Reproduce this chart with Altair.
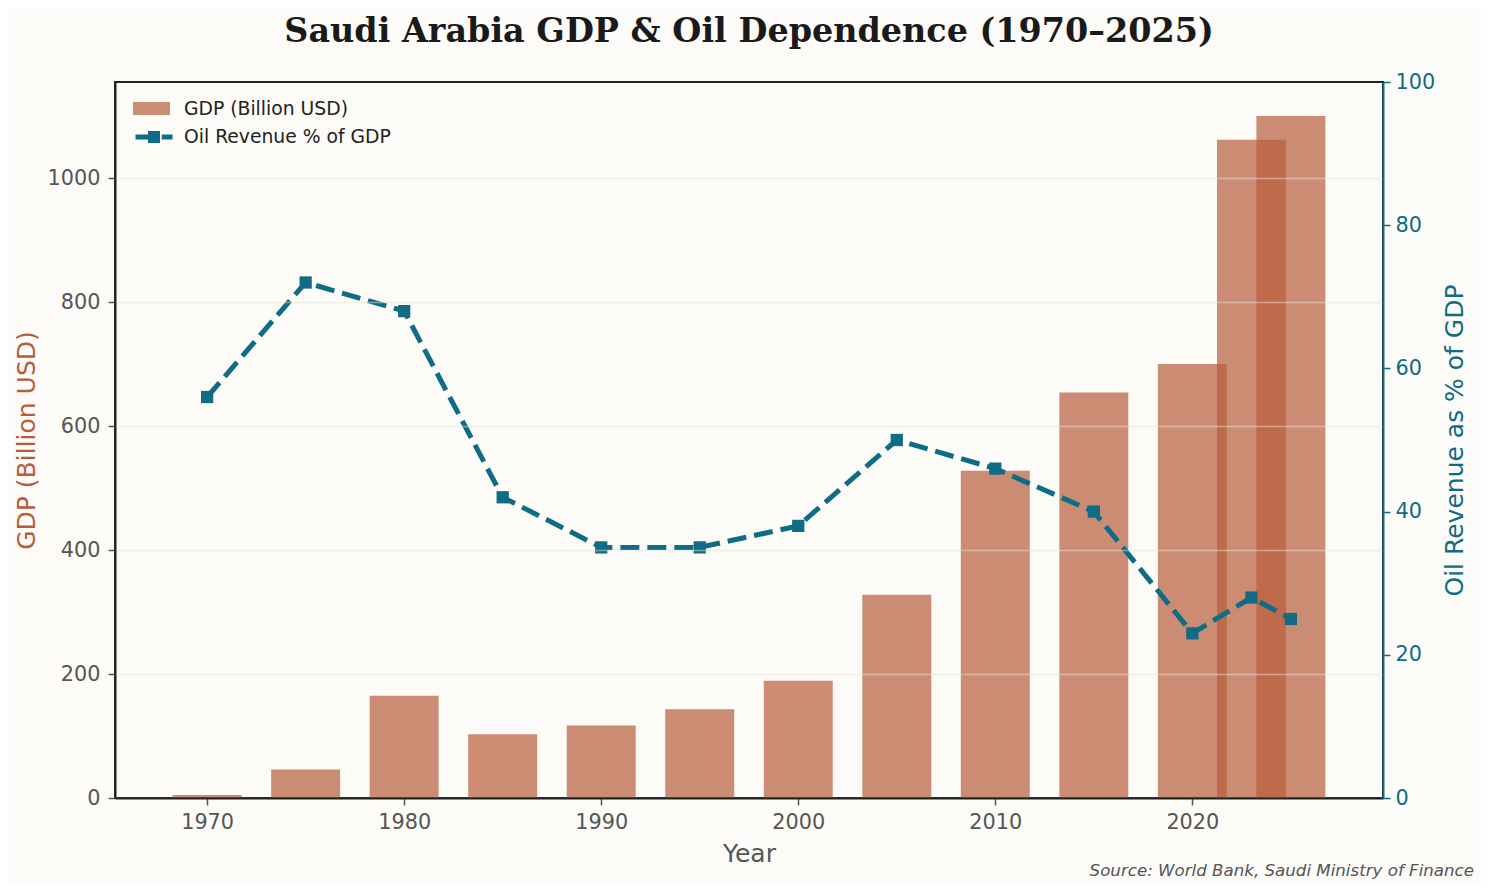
import altair as alt
import pandas as pd

# ---- data ----
years = [1970, 1975, 1980, 1985, 1990, 1995, 2000, 2005, 2010, 2015, 2020, 2023, 2025]
gdp_billion_usd = [5, 46, 165, 103, 117, 143, 189, 328, 528, 654, 700, 1062, 1100]
oil_revenue_pct = [56, 72, 68, 42, 35, 35, 38, 50, 46, 40, 23, 28, 25]
x_ticks = [1970, 1980, 1990, 2000, 2010, 2020]
gdp_ticks = [0, 200, 400, 600, 800, 1000]
oil_ticks = [0, 20, 40, 60, 80, 100]

title_text = "Saudi Arabia GDP & Oil Dependence (1970–2025)"
gdp_series = "GDP (Billion USD)"
oil_series = "Oil Revenue % of GDP"
x_title = "Year"
left_title = "GDP (Billion USD)"
right_title = "Oil Revenue as % of GDP"
source_text = ["Source: World Bank, Saudi Ministry of Finance"]

BAR = "#B85C3C"
TEAL = "#0E6C84"
BG = "#FCFBF8"
GRAY = "#555555"
DARK = "#222222"

df = pd.DataFrame({"year": years, "gdp": gdp_billion_usd, "oil": oil_revenue_pct})
src = pd.DataFrame({"t": source_text})

x_scale = alt.Scale(domain=[1965.325, 2029.675], nice=False, zero=False)
x_axis = alt.Axis(values=x_ticks, format="d", title=x_title, titleColor=GRAY,
                  titleFontSize=25, titleFontWeight="normal", titlePadding=10,
                  labelFontSize=20.8, labelColor=GRAY, labelPadding=7,
                  tickColor=GRAY, tickSize=7, tickWidth=1.5,
                  domainColor=DARK, domainWidth=2, grid=False, zindex=1)
left_axis = alt.Axis(values=gdp_ticks, format="d", title=left_title, titleColor=BAR,
                     titleFontSize=25, titleFontWeight="normal", titlePadding=8,
                     labelFontSize=20.8, labelColor=GRAY, labelPadding=8,
                     tickColor=GRAY, tickSize=7, tickWidth=1.5,
                     domainColor=DARK, domainWidth=2,
                     grid=True, gridColor="#E6E0D6", gridOpacity=0.5, gridWidth=1.5,
                     zindex=1)
right_axis = alt.Axis(orient="right", values=oil_ticks, title=right_title,
                      titleAngle=270, titleBaseline="top", titleColor=TEAL, titleFontSize=25,
                      titleFontWeight="normal", titlePadding=8,
                      labelFontSize=20.8, labelColor=TEAL, labelPadding=5,
                      tickColor=TEAL, tickSize=7, tickWidth=1.5,
                      domainColor=TEAL, domainWidth=2, grid=False, zindex=2)

bars = alt.Chart(df).transform_calculate(
    x0="datum.year - 1.75", x1="datum.year + 1.75", series=f"'{gdp_series}'"
).mark_rect(opacity=0.7).encode(
    x=alt.X("x0:Q", scale=x_scale, axis=x_axis, title=x_title),
    x2="x1:Q",
    y=alt.Y("gdp:Q", scale=alt.Scale(domain=[0, 1155], nice=False), axis=left_axis, title=left_title),
    y2=alt.datum(0),
    fill=alt.Fill("series:N", scale=alt.Scale(domain=[gdp_series], range=[BAR]),
                  legend=alt.Legend(orient="none", legendX=18, legendY=8, title=None,
                                    symbolType="M-1,-0.35H1V0.35H-1Z", symbolSize=1369,
                                    symbolOpacity=0.7, symbolStrokeWidth=0,
                                    labelFontSize=18.75, labelColor=DARK, labelOffset=14,
                                    labelLimit=0, padding=0)),
)

line = alt.Chart(df).transform_calculate(series=f"'{oil_series}'").mark_line(
    strokeDash=[19, 8], strokeWidth=5, strokeCap="butt"
).encode(
    x=alt.X("year:Q", scale=x_scale, axis=x_axis, title=x_title),
    y=alt.Y("oil:Q", scale=alt.Scale(domain=[0, 100], nice=False), axis=right_axis, title=right_title),
    stroke=alt.Stroke("series:N", scale=alt.Scale(domain=[oil_series], range=[TEAL]),
                      legend=alt.Legend(orient="none", legendX=18, legendY=34, title=None,
                                        symbolType="M-1,0H-0.3M0.42,0H1M-0.19,-0.19H0.19V0.19H-0.19Z",
                                        symbolSize=1369, symbolStrokeWidth=5,
                                        symbolFillColor=TEAL, symbolDash=[1, 0],
                                        labelFontSize=18.75, labelColor=DARK, labelOffset=9,
                                        labelLimit=0, padding=0)),
)

points = alt.Chart(df).mark_point(shape="square", filled=True, size=150, opacity=1).encode(
    x=alt.X("year:Q", scale=x_scale, axis=x_axis, title=x_title),
    y=alt.Y("oil:Q", scale=alt.Scale(domain=[0, 100], nice=False), axis=right_axis, title=right_title),
    color=alt.value(TEAL),
)

source = alt.Chart(src).mark_text(
    align="right", baseline="alphabetic", font="DejaVu Sans", fontStyle="italic",
    fontSize=16.67, color=GRAY
).encode(text="t:N", x=alt.value(1359), y=alt.value(794))

chart = alt.layer(bars, alt.layer(line, points), source).resolve_scale(
    y="independent"
).properties(
    width=1268, height=716,
    title=alt.TitleParams(title_text, font="DejaVu Serif", fontSize=33.4, fontWeight="bold",
                          color="#1A1A1A", anchor="middle", frame="group", offset=22),
    autosize=alt.AutoSizeParams(type="none"),
    padding={"left": 107, "top": 74, "right": 98, "bottom": 87},
    background=BG,
).configure(
    font="DejaVu Sans",
).configure_view(
    stroke=DARK, strokeWidth=2,
)

chart.save("out.html", embed_options={"renderer": "svg", "actions": False})
